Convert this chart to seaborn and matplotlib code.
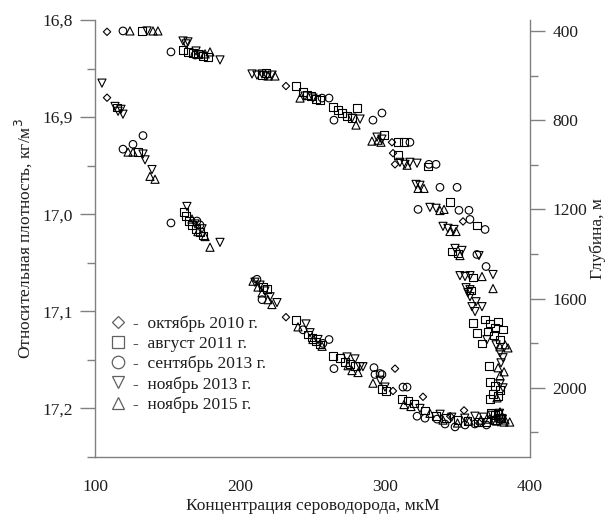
import matplotlib
matplotlib.use("Agg")
import matplotlib.pyplot as plt
from matplotlib.lines import Line2D
from matplotlib.ticker import FixedLocator
import seaborn as sns

sns.set_style("white")
plt.rcParams['font.family'] = ['Liberation Serif', 'DejaVu Serif']
plt.rcParams['mathtext.fontset'] = 'custom'

# ---------------- data ----------------
series_labels = ["октябрь 2010 г.", "август 2011 г.", "сентябрь 2013 г.",
                 "ноябрь 2013 г.", "ноябрь 2015 г."]

# H2S (µM) vs relative density (kg/m3) -- left axis
dens_oct2010_x = [108.3, 231.7, 306.9, 305.5, 326.2, 354.5, 345, 365]
dens_oct2010_y = [16.880, 17.106, 17.159, 17.182, 17.188, 17.202, 17.208, 17.215]

dens_aug2011_x = [115.2, 129.7, 161.4, 162.8, 164.8, 166.9, 169.7, 172.4, 174.5, 215.9, 218.6,
                  238.6, 246.9, 249.7, 252.4, 255.2, 264.1, 269, 272.4, 275.9, 279.3, 297.9,
                  300.7, 311.7, 315.9, 320, 327.6, 335, 342, 350, 357, 364, 370, 376, 380, 378, 373]
dens_aug2011_y = [16.890, 16.936, 16.998, 17.002, 17.007, 17.011, 17.015, 17.018, 17.022, 17.075, 17.077,
                  17.109, 17.124, 17.127, 17.131, 17.134, 17.146, 17.148, 17.152, 17.154, 17.156, 17.180,
                  17.182, 17.190, 17.192, 17.195, 17.202, 17.208, 17.210, 17.212, 17.213, 17.214, 17.214,
                  17.212, 17.210, 17.206, 17.205]

dens_sep2013_x = [133.1, 126.2, 119.3, 152.4, 170.3, 172.4, 211.7, 215.2, 243.4, 261.4, 257.2, 264.8,
                  292.4, 297.9, 293.1, 296.6, 312.4, 315.2, 322.1, 327.6, 335.9, 341.4, 348.3, 355.2,
                  362, 370]
dens_sep2013_y = [16.919, 16.928, 16.933, 17.009, 17.007, 17.011, 17.067, 17.088, 17.119, 17.129, 17.133,
                  17.159, 17.158, 17.165, 17.165, 17.164, 17.178, 17.178, 17.208, 17.210, 17.211, 17.216,
                  17.219, 17.217, 17.216, 17.217]

dens_nov2013_x = [104.8, 113.8, 115.9, 117.9, 119.3, 133.1, 134.5, 139.3, 163.4, 169, 173.8, 186.2,
                  210.3, 213.8, 217.2, 220.7, 225.5, 245.5, 248.3, 253.8, 273.8, 279.3, 282.8, 284.8,
                  296.6, 300, 324.1, 338, 346, 355, 362, 368, 374, 379, 381]
dens_nov2013_y = [16.865, 16.889, 16.894, 16.892, 16.897, 16.938, 16.944, 16.954, 16.992, 17.010, 17.015,
                  17.029, 17.070, 17.073, 17.079, 17.085, 17.091, 17.113, 17.122, 17.129, 17.147, 17.149,
                  17.157, 17.157, 17.171, 17.178, 17.200, 17.206, 17.209, 17.210, 17.208, 17.209, 17.207,
                  17.205, 17.211]

dens_nov2015_x = [122.8, 126.2, 137.9, 141.4, 166.9, 171, 175.9, 179.3, 209, 212.4, 215.2, 219.3, 222,
                  240, 250.3, 256.6, 274.5, 277.2, 281.4, 291.7, 313.1, 317.9, 331, 340, 350, 358, 366,
                  372, 377, 382, 386]
dens_nov2015_y = [16.936, 16.936, 16.961, 16.964, 17.005, 17.018, 17.023, 17.034, 17.069, 17.075, 17.081,
                  17.088, 17.093, 17.116, 17.129, 17.136, 17.156, 17.161, 17.163, 17.174, 17.196, 17.198,
                  17.205, 17.212, 17.215, 17.213, 17.212, 17.211, 17.213, 17.214, 17.214]

# H2S (µM) vs depth (m) -- right axis
dep_oct2010_x = [108.3, 231.7, 304.8, 305.5, 306.9, 353.8]
dep_oct2010_y = [404, 647, 899, 948, 998, 1254]

dep_aug2011_x = [132.4, 160.7, 164.1, 167.6, 171, 174.5, 177.9, 215.2, 217.9, 238.6, 243.4, 246.2, 249,
                 252.4, 255.2, 264.1, 267.6, 270.3, 273.8, 277.2, 280.7, 299.3, 309, 313.1, 309, 329.7,
                 344.8, 346.2, 350.3, 360.7, 359.3, 363.4, 360.7, 363.4, 366.9, 369, 372.4, 375.9, 371,
                 375.2, 379.3, 377.9, 381.4, 371.7, 372.4, 375.9, 379.3, 374.5, 377.9, 372.4, 375.9, 379.3]
dep_aug2011_y = [400, 485, 494, 499, 503, 512, 517, 598, 589, 647, 674, 688, 692,
                 706, 710, 742, 755, 769, 782, 791, 746, 867, 899, 899, 957, 1007,
                 1168, 1389, 1398, 1506, 1564, 1272, 1708, 1753, 1802, 1694, 1712, 1730, 1748,
                 1766, 1784, 1703, 1739, 1901, 1973, 1991, 2009, 2027, 2036, 2049, 2121, 2135]

dep_sep2013_x = [119.3, 152.4, 169, 256.6, 261.4, 264.8, 291.7, 297.9, 317.2, 330.3, 335.2, 337.9, 349.7,
                 322.8, 351, 357.9, 358.6, 369, 363.4, 369.7]
dep_sep2013_y = [400, 494, 508, 701, 701, 800, 800, 768, 899, 998, 998, 1101, 1101,
                 1200, 1204, 1204, 1245, 1290, 1402, 1456]

dep_nov2013_x = [135.9, 160.7, 162.8, 164.1, 169.7, 172.4, 186.2, 208.3, 211.7, 215.2, 218.6, 222.1,
                 244.8, 250.3, 277.2, 282.8, 294.5, 297.9, 310.3, 313.8, 317.2, 322.1, 321.4, 324.1,
                 331, 335.2, 340, 343.4, 347.6, 348.3, 353.1, 364.8, 374.5, 351.7, 355.2, 358.6, 355.9,
                 358.6, 357.2, 358.6, 362.8, 360, 366.9, 362.1, 370.3, 376.6, 379.3, 381.4, 380, 381.4,
                 379.3, 377.9]
dep_nov2013_y = [400, 445, 458, 449, 490, 508, 530, 593, 598, 593, 602, 598,
                 692, 701, 791, 795, 876, 885, 989, 998, 989, 993, 1088, 1092,
                 1191, 1195, 1276, 1285, 1290, 1375, 1384, 1407, 1492, 1497, 1501, 1497, 1551,
                 1560, 1573, 1591, 1614, 1636, 1636, 1658, 1784, 1807, 1843, 1865, 1888, 2000,
                 1982, 2153]

dep_nov2015_x = [124.1, 140, 143.4, 175.9, 179.3, 219.3, 224.1, 241.4, 280, 291, 295.2, 297.2, 315.2,
                 322.8, 326.9, 337.9, 340.7, 344.8, 349, 351.7, 366.9, 374.5, 379.3, 382.8, 384.8, 378,
                 382.1, 379.3, 377.2, 379.3, 382.8]
dep_nov2015_y = [400, 400, 400, 503, 494, 602, 602, 701, 822, 894, 890, 899, 1002,
                 1106, 1106, 1205, 1200, 1299, 1299, 1407, 1501, 1555, 1816, 1807, 1821, 1910,
                 1928, 1946, 2045, 2108, 2144]

x_ticks = [100, 200, 300, 400]
x_minor = [150, 250, 350]
dens_ticks = [16.8, 16.9, 17.0, 17.1, 17.2]
dens_tick_labels = ["16,8", "16,9", "17,0", "17,1", "17,2"]
dens_minor = [16.85, 16.95, 17.05, 17.15, 17.25]
depth_ticks = [400, 800, 1200, 1600, 2000]
depth_minor = [600, 1000, 1400, 1800, 2200]

markers = ["D", "s", "o", "v", "^"]
sizes = [14, 30, 30, 34, 34]

dens_sets = [(dens_oct2010_x, dens_oct2010_y), (dens_aug2011_x, dens_aug2011_y),
             (dens_sep2013_x, dens_sep2013_y), (dens_nov2013_x, dens_nov2013_y),
             (dens_nov2015_x, dens_nov2015_y)]
dep_sets = [(dep_oct2010_x, dep_oct2010_y), (dep_aug2011_x, dep_aug2011_y),
            (dep_sep2013_x, dep_sep2013_y), (dep_nov2013_x, dep_nov2013_y),
            (dep_nov2015_x, dep_nov2015_y)]

# ---------------- figure ----------------
fig = plt.figure(figsize=(6.1, 5.17), dpi=100)
ax = fig.add_axes([95 / 610, 1 - 457 / 517, 435 / 610, 437 / 517])
ax2 = ax.twinx()

for (xs, ys), m, s in zip(dens_sets, markers, sizes):
    sns.scatterplot(x=xs, y=ys, marker=m, s=s, facecolor="none", edgecolor="black",
                    linewidth=0.8, ax=ax, legend=False, zorder=3)
for (xs, ys), m, s in zip(dep_sets, markers, sizes):
    sns.scatterplot(x=xs, y=ys, marker=m, s=s, facecolor="none", edgecolor="black",
                    linewidth=0.8, ax=ax2, legend=False, zorder=3)

ax.set_xlim(100, 400)
ax.set_ylim(17.25, 16.8)
ax2.set_ylim(2310, 351)

grey = "#808080"
txtc = "#1e1e1e"
for sp in ["top", "right"]:
    ax.spines[sp].set_visible(False)
for sp in ["top", "left", "bottom"]:
    ax2.spines[sp].set_visible(False)
for sp in ["left", "bottom"]:
    ax.spines[sp].set_color(grey)
    ax.spines[sp].set_linewidth(1.0)
ax2.spines["right"].set_color(grey)
ax2.spines["right"].set_linewidth(1.0)

ax.set_xticks(x_ticks)
ax.set_xticklabels([str(v) for v in x_ticks])
ax.xaxis.set_minor_locator(FixedLocator(x_minor))
ax.set_yticks(dens_ticks)
ax.set_yticklabels(dens_tick_labels)
ax.yaxis.set_minor_locator(FixedLocator(dens_minor))
ax2.set_yticks(depth_ticks)
ax2.set_yticklabels([str(v) for v in depth_ticks])
ax2.yaxis.set_minor_locator(FixedLocator(depth_minor))

ax.tick_params(axis="both", which="major", direction="out", length=11, width=1.0,
               color=grey, labelsize=12.5, labelcolor=txtc, pad=5)
ax.tick_params(axis="both", which="minor", direction="out", length=5.5, width=1.0, color=grey)
ax2.tick_params(axis="y", which="major", direction="out", length=11, width=1.0,
                color=grey, labelsize=12.5, labelcolor=txtc, pad=5)
ax2.tick_params(axis="y", which="minor", direction="out", length=5.5, width=1.0, color=grey)

ax.set_xlabel("Концентрация сероводорода, мкМ", fontsize=12.5, color=txtc, labelpad=2)
ax.set_ylabel("Относительная плотность, кг/м$^3$", fontsize=12.5, color=txtc, labelpad=6)
ax2.set_ylabel("Глубина, м", fontsize=12.5, color=txtc, labelpad=2)

handles = [Line2D([], [], linestyle="none", marker=m, markersize=ms, markerfacecolor="none",
                  markeredgecolor="#606060", markeredgewidth=0.9)
           for m, ms in zip(markers, [6, 9, 9, 9, 9])]
leg = ax.legend(handles, ["-  " + l for l in series_labels], loc="upper left",
                bbox_to_anchor=(0.035, 0.324), frameon=False, fontsize=12.5,
                handlelength=0.9, handletextpad=0.4, labelspacing=0.22, borderpad=0,
                borderaxespad=0)
for t in leg.get_texts():
    t.set_color(txtc)

fig.savefig("out.png", dpi=100)
